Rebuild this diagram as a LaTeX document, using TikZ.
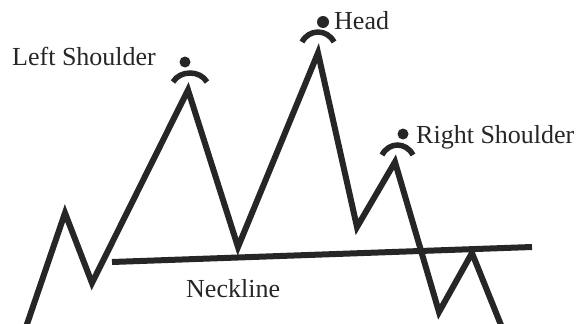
\documentclass[tikz,border=0pt]{standalone}
\usepackage{fontspec}
\setmainfont{Liberation Serif}
\begin{document}
\begin{tikzpicture}[x=1pt,y=-1pt,
	trend/.style={line width=6pt, color=black!85},
	peakarc/.style={line width=5.5pt, color=black!85},
	lbl/.style={inner sep=0pt, anchor=base west, font=\fontsize{26}{30}\selectfont, text=black!85}]
	\useasboundingbox (0,0) rectangle (579,324);
	\clip (0,0) rectangle (579,324);
	
	\coordinate (p0) at (25,330);
	\coordinate (p1) at (65,213);
	\coordinate (p2) at (92,283);
	\coordinate (ls) at (188,90);
	\coordinate (p4) at (238,247);
	\coordinate (hd) at (318,53);
	\coordinate (p6) at (357,227);
	\coordinate (rs) at (395,162);
	\coordinate (p8) at (439,312);
	\coordinate (p9) at (472,253);
	\coordinate (p10) at (503,330);
	\coordinate (nl1) at (112,262);
	\coordinate (nl2) at (532,247);
	
	\draw[trend] (p0) -- (p1) -- (p2) -- (ls) -- (p4) -- (hd) -- (p6) -- (rs) -- (p8) -- (p9) -- (p10);
	\draw[trend] (nl1) -- (nl2);
	
	\draw[peakarc] (173,82) .. controls (180,70) and (200,70) .. (207,82);
	\draw[peakarc] (302,42) .. controls (309,28.7) and (327,28.7) .. (334,42);
	\draw[peakarc] (382,155) .. controls (389,141.7) and (406,141.7) .. (413,155);
	\fill[black!85] (185,62) circle (5.5);
	\fill[black!85] (323,22) circle (6);
	\fill[black!85] (403,134) circle (5.5);
	
	\node[lbl] (lsl) at (12,65) {Left Shoulder};
	\node[lbl] (hdl) at (334,30) {Head};
	\node[lbl] (rsl) at (416,143) {Right Shoulder};
	\node[lbl] (nll) at (186,297) {Neckline};
	\end{tikzpicture}
\end{document}
